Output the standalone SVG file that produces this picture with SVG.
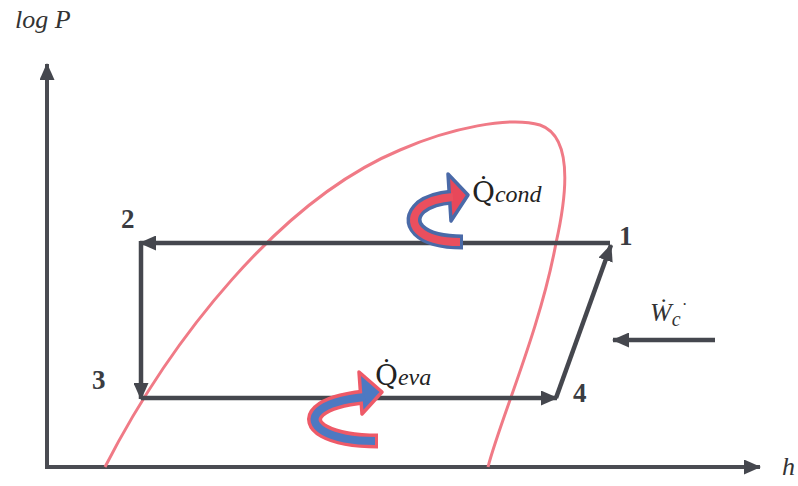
<svg xmlns="http://www.w3.org/2000/svg" width="798" height="486" viewBox="0 0 798 486">
<defs>
<style>
.ax{stroke:#4a4c52;stroke-width:4;fill:none}
.cy{stroke:#45474e;stroke-width:4.5;fill:none}
.dome{stroke:#f07a86;stroke-width:3;fill:none}
.num{font-family:"Liberation Serif",serif;font-weight:bold;font-size:27px;fill:#3a3c42}
.lab{font-family:"Liberation Serif",serif;font-style:italic;font-size:26px;fill:#333}
.q{font-family:"DejaVu Serif","Liberation Serif",serif;font-size:28px;fill:#222}
.sub{font-family:"Liberation Serif",serif;font-style:italic;font-size:24px;fill:#222}
</style>
<marker id="ahc" markerWidth="17" markerHeight="15" refX="16" refY="7.5" orient="auto" markerUnits="userSpaceOnUse">
<path d="M0,0 L17,7.5 L0,15 z" fill="#45474e"/>
</marker>
</defs>
<rect width="798" height="486" fill="#fff"/>

<g id="axes">
<path class="ax" d="M47,468 V64" marker-end="url(#ahc)"/>
<path class="ax" d="M45,467 H760" marker-end="url(#ahc)"/>
</g>

<g id="dome">
<path class="dome" d="M105,467 C170,340 280,200 400,150 C450,128 510,116 540,125 C572,136 568,190 556,243 C540,330 500,420 488,467"/>
</g>

<g id="connectors">
<path class="cy" d="M610,243 H140" marker-end="url(#ahc)"/>
<path class="cy" d="M141,241 V399" marker-end="url(#ahc)"/>
<path class="cy" d="M141,398 H557" marker-end="url(#ahc)"/>
<path class="cy" d="M556,398 L611,245" marker-end="url(#ahc)"/>
<path class="cy" d="M715,340 H613" marker-end="url(#ahc)"/>
</g>

<g id="qcond-arrow">
<path d="M463,242 C418,242 404,222 421,207 C430,200 440,198 452,197" fill="none" stroke="#4a6aa8" stroke-width="15"/>
<path d="M448,174 L468,195 L451,221 z" fill="#e8485a" stroke="#4a6aa8" stroke-width="3.5" stroke-linejoin="round"/>
<path d="M460,242 C418,242 404,222 421,207 C430,200 440,198 453,197" fill="none" stroke="#ea4f5e" stroke-width="8"/>
</g>

<g id="qeva-arrow">
<path d="M378,441 C328,441 304,425 319,411 C328,403 345,399 364,397" fill="none" stroke="#ee5a68" stroke-width="15"/>
<path d="M359,372 L382,392 L362,414 z" fill="#4d79c2" stroke="#ee5a68" stroke-width="3.5" stroke-linejoin="round"/>
<path d="M375,441 C328,441 304,425 319,411 C328,403 345,399 365,397" fill="none" stroke="#4d79c2" stroke-width="8"/>
</g>

<g id="labels">
<text class="lab" x="15" y="28">log P</text>
<text class="lab" x="782" y="475">h</text>
<text class="num" x="121" y="228">2</text>
<text class="num" x="619" y="245">1</text>
<text class="num" x="92" y="389">3</text>
<text class="num" x="573" y="402">4</text>
<text class="q" x="472" y="202">Q̇<tspan class="sub">cond</tspan></text>
<text class="q" x="375" y="385">Q̇<tspan class="sub">eva</tspan></text>
<text class="lab" x="650" y="321">Ẇ<tspan font-size="20" dy="5">c</tspan><tspan font-size="18" dy="-10">˙</tspan></text>
</g>
</svg>
